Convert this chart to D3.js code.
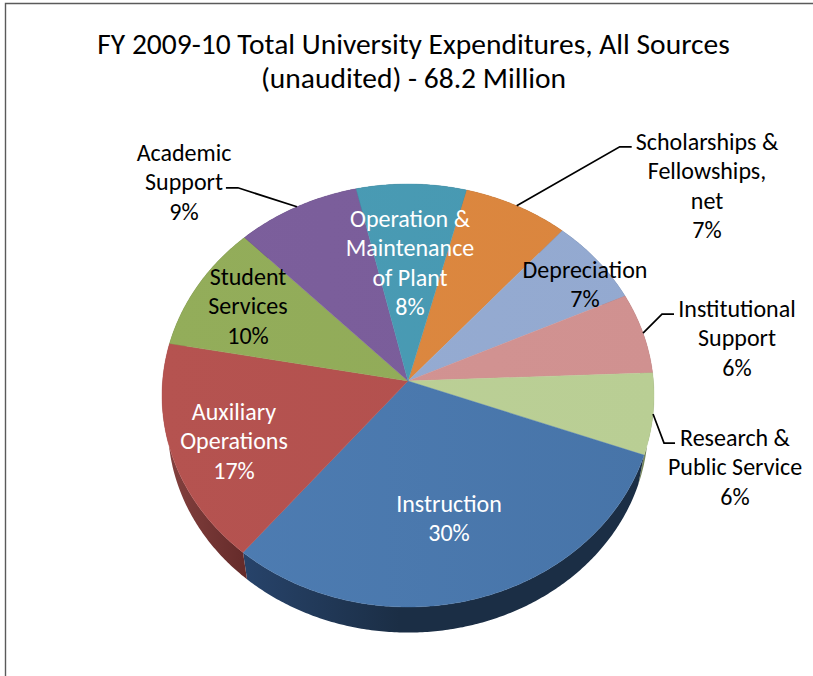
<!DOCTYPE html>
<html>
<head>
<meta charset="utf-8">
<script src="https://cdn.jsdelivr.net/npm/d3@7"></script>
<style>
html,body{margin:0;padding:0;background:#fff;}
svg{display:block;}
text{font-family:Carlito,Calibri,Lato,sans-serif;}
</style>
</head>
<body>
<svg id="c" width="813" height="676"></svg>
<script>
const titleLines = ["FY 2009-10 Total University Expenditures, All Sources", "(unaudited) - 68.2 Million"];
const categories = ["Scholarships & Fellowships, net","Depreciation","Institutional Support","Research & Public Service","Instruction","Auxiliary Operations","Student Services","Academic Support","Operation & Maintenance of Plant"];
const values = [7.4,6.7,6.2,6.2,30.4,16.9,9.8,8.7,7.7];
const colors = ["#da853e","#93a9d0","#d09190","#b9ce94","#4774a8","#b24f4d","#90aa58","#795c99","#4798b1"];
const lightColors = ["#dd8940","#96acd2","#d39493","#bcd097","#4e7db3","#b55350","#93ad5a","#7c5f9c","#4a9cb5"];
const wallColors = ["#8a5020","#5a6a8a","#8a5a5a","#75855a","#1b2e45","#6a2e2d","#5b6d35","#4a3860","#2a6070"];
const labelLines = [["Scholarships &","Fellowships,","net"],["Depreciation"],["Institutional","Support"],["Research &","Public Service"],["Instruction"],["Auxiliary","Operations"],["Student","Services"],["Academic","Support"],["Operation &","Maintenance","of Plant"]];
const labelCenters = [[707,149.6],[585,277.6],[737,316.6],[735,445.6],[449,511.6],[234,419.6],[248,284.6],[184,160.6],[410,226.6]];
const labelColors = ["#000","#000","#000","#000","#fff","#fff","#000","#000","#fff"];
const leaderOffsets = [[[103,-59],[115,-59]],null,[[19,-19],[31,-19]],[[11,29],[22,29]],null,null,null,[[-59,-19],[-71,-19]],null];

const svg = d3.select("#c");
const cx = 408, cy = 381, Rx = 245.4, Ry = 210.5, persp = 0.0686;
const startAngle = (14.7 * Math.PI) / 180;
const wallShift = 31, wallScale = 0.976;

function project(a, lower) {
  const u = Math.sin(a), v = -Math.cos(a), w = 1 - persp * v;
  const x = Rx * u / w, y = Ry * v / w;
  return lower ? [cx + x * wallScale, cy + wallShift + y * wallScale] : [cx + x, cy + y];
}
function arcPoints(a0, a1, lower) {
  const n = Math.max(2, Math.ceil((a1 - a0) / 0.01));
  return d3.range(n + 1).map(i => project(a0 + (a1 - a0) * i / n, lower));
}
const line = d3.line().curve(d3.curveLinear);
const pie = d3.pie().sort(null).startAngle(startAngle).endAngle(startAngle + 2 * Math.PI);
const arcs = pie(values);

// frame
svg.append("path").attr("d", "M5.5,676V3.5H813").attr("fill", "none").attr("stroke", "#5a5a5a").attr("stroke-width", 1.4);

// gradients
const defs = svg.append("defs");
arcs.forEach((d, i) => {
  const g = defs.append("linearGradient").attr("id", "top" + i).attr("gradientUnits", "userSpaceOnUse")
    .attr("x1", cx - Rx).attr("y1", cy).attr("x2", cx + Rx).attr("y2", cy);
  g.append("stop").attr("offset", 0).attr("stop-color", lightColors[i]);
  g.append("stop").attr("offset", 1).attr("stop-color", colors[i]);
});
const wg = defs.append("linearGradient").attr("id", "wall4").attr("gradientUnits", "userSpaceOnUse")
  .attr("x1", 245).attr("y1", 0).attr("x2", 400).attr("y2", 0);
wg.append("stop").attr("offset", 0).attr("stop-color", "#27436a");
wg.append("stop").attr("offset", 1).attr("stop-color", "#1b2e45");
const wr = defs.append("linearGradient").attr("id", "wall5").attr("gradientUnits", "userSpaceOnUse")
  .attr("x1", 170).attr("y1", 0).attr("x2", 245).attr("y2", 0);
wr.append("stop").attr("offset", 0).attr("stop-color", "#83403e");
wr.append("stop").attr("offset", 1).attr("stop-color", "#652b2a");

// walls
svg.append("g").selectAll("path").data(arcs).join("path")
  .attr("d", d => line(arcPoints(d.startAngle, d.endAngle, false).concat(arcPoints(d.startAngle, d.endAngle, true).reverse())) + "Z")
  .attr("fill", (d, i) => (i === 4 || i === 5) ? `url(#wall${i})` : wallColors[i]);

// tops
svg.append("g").selectAll("path").data(arcs).join("path")
  .attr("d", d => line([[cx, cy]].concat(arcPoints(d.startAngle, d.endAngle, false))) + "Z")
  .attr("fill", (d, i) => `url(#top${i})`)
  .attr("stroke", (d, i) => colors[i]).attr("stroke-width", 0.4);

// leaders
svg.append("g").selectAll("path").data(arcs.filter((d, i) => leaderOffsets[i])).join("path")
  .attr("d", d => {
    const a = (d.startAngle + d.endAngle) / 2, p = project(a, false);
    return line([p].concat(leaderOffsets[d.index].map(o => [p[0] + o[0], p[1] + o[1]])));
  })
  .attr("fill", "none").attr("stroke", "#000").attr("stroke-width", 1.7);

// labels
const fs = 24, lh = 29.5;
const lg = svg.append("g").attr("font-size", fs).attr("text-anchor", "middle");
arcs.forEach((d, i) => {
  const lines = labelLines[i].concat(Math.round(values[i]) + "%");
  lines.forEach((t, j) => {
    lg.append("text").attr("x", labelCenters[i][0]).attr("y", labelCenters[i][1] + j * lh)
      .attr("fill", labelColors[i]).text(t);
  });
});

// title
svg.append("g").attr("font-size", 29.5).attr("text-anchor", "middle").selectAll("text").data(titleLines).join("text")
  .attr("x", 413.5).attr("y", (d, i) => 54 + i * 34).attr("fill", "#000").text(d => d);
</script>
</body>
</html>
